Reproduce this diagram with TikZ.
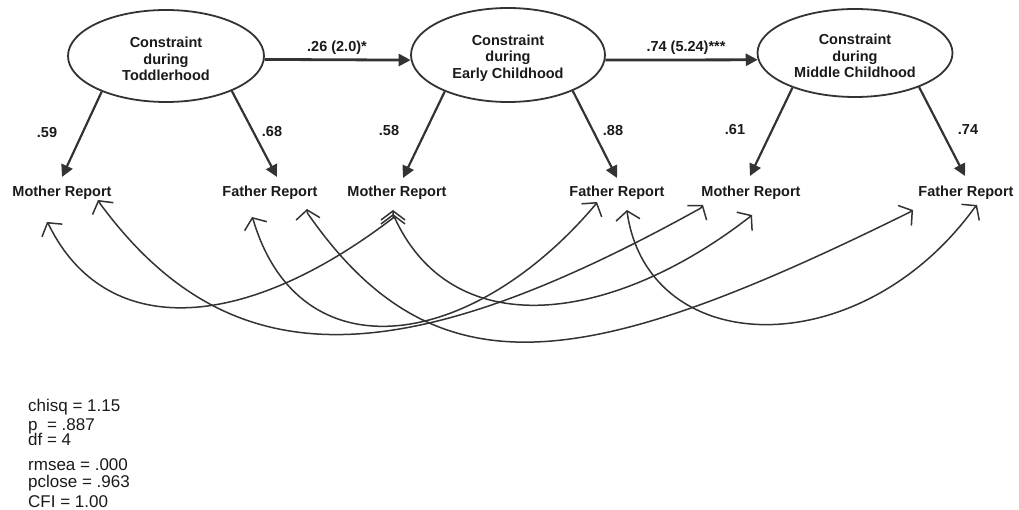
\documentclass[tikz,border=0pt]{standalone}
\usepackage{fontspec}
\setmainfont{Liberation Sans}
\usetikzlibrary{arrows.meta,shapes.geometric}
\definecolor{lineC}{HTML}{333333}
\definecolor{txtC}{HTML}{1A1A1A}
\begin{document}
\begin{tikzpicture}[x=1pt,y=-1pt,
  latent/.style={ellipse,draw=lineC,line width=1.8pt,inner sep=0pt,font=\bfseries\fontsize{14.5}{16.5}\selectfont,align=center,text=txtC},
  obs/.style={inner sep=0pt,anchor=base,font=\bfseries\fontsize{14.5}{16.5}\selectfont,text=txtC},
  coef/.style={inner sep=0pt,anchor=base,font=\bfseries\fontsize{14.5}{16.5}\selectfont,text=txtC},
  loading/.style={draw=lineC,line width=2.2pt,-{Triangle[length=12pt,width=12pt]}},
  regpath/.style={draw=lineC,line width=2.8pt,-{Triangle[length=12pt,width=12pt]}},
  corr/.style={draw=lineC,line width=1.5pt,{Straight Barb[length=9pt,width=24pt]}-{Straight Barb[length=9pt,width=24pt]}},
  stat/.style={inner sep=0pt,anchor=base west,font=\fontsize{17}{17}\selectfont,text=txtC}]
\fill[white] (0,0) rectangle (1019,510);
\useasboundingbox (0,0) rectangle (1019,510);

% latent variables
\node[latent,minimum width=196pt,minimum height=92pt] (e1) at (166,56) {\rule{0pt}{16.5pt}Constraint\\during\\Toddlerhood};
\node[latent,minimum width=194pt,minimum height=94pt] (e2) at (508,55) {\rule{0pt}{16.5pt}Constraint\\during\\Early Childhood};
\node[latent,minimum width=195pt,minimum height=88pt] (e3) at (855,53) {\rule{0pt}{16.5pt}Constraint\\during\\Middle Childhood};

% observed variables
\node[obs] (m1) at (62,197) {Mother Report};
\node[obs] (f1) at (270,197) {Father Report};
\node[obs] (m2) at (397,197) {Mother Report};
\node[obs] (f2) at (617,197) {Father Report};
\node[obs] (m3) at (751,197) {Mother Report};
\node[obs] (f3) at (966,197) {Father Report};

% structural paths
\draw[regpath] (e1.358) -- (e2.183);
\draw[regpath] (e2.357) -- (e3.184);
\node[coef] (c12) at (337,52) {.26 (2.0)*};
\node[coef] (c23) at (686,52) {.74 (5.24)***};

% loadings
\draw[loading] (e1.209) -- ([shift={(0,-20)}]m1.base);
\draw[loading] (e1.332) -- ([shift={(7,-20)}]f1.base);
\draw[loading] (e2.210) -- ([shift={(6,-19)}]m2.base);
\draw[loading] (e2.331) -- ([shift={(0,-19)}]f2.base);
\draw[loading] (e3.209) -- ([shift={(-1,-21)}]m3.base);
\draw[loading] (e3.332) -- ([shift={(-1,-21)}]f3.base);
\node[coef] (l1) at (47,138) {.59};
\node[coef] (l2) at (272,137) {.68};
\node[coef] (l3) at (389,136) {.58};
\node[coef] (l4) at (613,136) {.88};
\node[coef] (l5) at (735,135) {.61};
\node[coef] (l6) at (968,135) {.74};

% arrow-head points of the correlations
\coordinate (m1a) at ([shift={(-15,25)}]m1.base);
\coordinate (m1b) at ([shift={(36,3)}]m1.base);
\coordinate (f1a) at ([shift={(-18,20)}]f1.base);
\coordinate (f1b) at ([shift={(37,12)}]f1.base);
\coordinate (m2a) at ([shift={(-4,17)}]m2.base);
\coordinate (m2b) at ([shift={(-4,13)}]m2.base);
\coordinate (f2a) at ([shift={(-20,5)}]f2.base);
\coordinate (f2b) at ([shift={(10,13)}]f2.base);
\coordinate (m3a) at ([shift={(-48,8)}]m3.base);
\coordinate (m3b) at ([shift={(1,18)}]m3.base);
\coordinate (f3a) at ([shift={(-53,13)}]f3.base);
\coordinate (f3b) at ([shift={(11,8)}]f3.base);

% correlations between errors
\draw[corr] (m1a) -- ([shift={(2.1,3.4)}]m1a) .. controls (105,338) and (240,335) .. ([shift={(0,4)}]m2a) -- (m2a);
\draw[corr] (m1b) -- ([shift={(2,3.5)}]m1b) .. controls (230,380) and (400,375) .. ([shift={(-2.4,3.2)}]m3a) -- (m3a);
\draw[corr] (f1a) -- ([shift={(1.5,3.7)}]f1a) .. controls (300,375) and (470,352) .. ([shift={(-2.2,3.4)}]f2a) -- (f2a);
\draw[corr] (f1b) -- ([shift={(0.4,4)}]f1b) .. controls (437,400) and (590,370) .. ([shift={(-3.3,2.2)}]f3a) -- (f3a);
\draw[corr] (m2b) -- ([shift={(0,4)}]m2b) .. controls (450,345) and (610,325) .. ([shift={(-3.1,2.6)}]m3b) -- (m3b);
\draw[corr] (f2b) -- ([shift={(0.4,4)}]f2b) .. controls (650,360) and (860,365) .. ([shift={(-2.7,3)}]f3b) -- (f3b);

% fit statistics
\node[stat] (s1) at (28,411) {chisq = 1.15};
\node[stat] (s2) at (28,430) {p\ \ = .887};
\node[stat] (s3) at (28,445) {df = 4};
\node[stat] (s4) at (28,470) {rmsea = .000};
\node[stat] (s5) at (28,487) {pclose = .963};
\node[stat] (s6) at (28,507) {CFI = 1.00};
\end{tikzpicture}
\end{document}
